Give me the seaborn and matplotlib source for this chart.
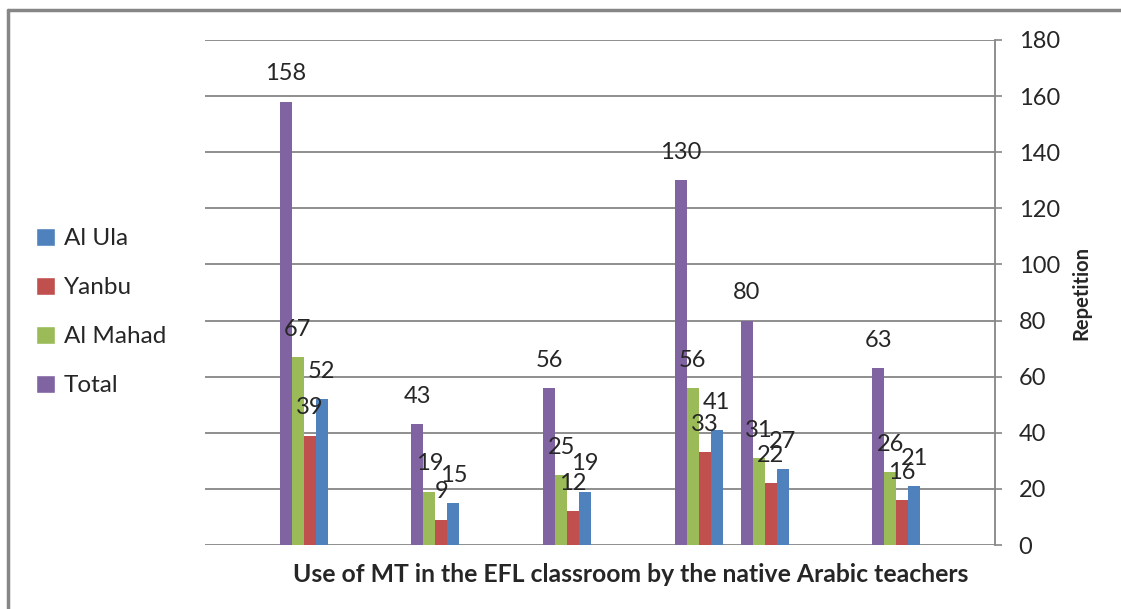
import numpy as np
import pandas as pd
import matplotlib
matplotlib.use("Agg")
import matplotlib.pyplot as plt
import seaborn as sns
from matplotlib.lines import Line2D
from matplotlib.patches import Patch

# dane
slots = ["1", "2", "3", "4", "5", "6", "7", "8", "9", "10", "11", "12"]
item_slots = ["2", "4", "6", "8", "9", "11"]
series = ["Total", "Al Mahad", "Yanbu", "Al Ula"]
total = [158, 43, 56, 130, 80, 63]
al_mahad = [67, 19, 25, 56, 31, 26]
yanbu = [39, 9, 12, 33, 22, 16]
al_ula = [52, 15, 19, 41, 27, 21]
colors = {"Total": "#8064A2", "Al Mahad": "#9BBB59", "Yanbu": "#C0504D", "Al Ula": "#4F81BD"}
y_ticks = [0, 20, 40, 60, 80, 100, 120, 140, 160, 180]
x_title = "Use of MT in the EFL classroom by the native Arabic teachers"
y_title = "Repetition"

df = pd.DataFrame({
    "slot": item_slots * 4,
    "series": np.repeat(series, len(item_slots)),
    "value": total + al_mahad + yanbu + al_ula,
})

sns.set_style("white")
plt.rcParams["font.family"] = ["Lato", "DejaVu Sans"]

W, H = 1121, 609
fig = plt.figure(figsize=(W / 100, H / 100), dpi=100)
ax = fig.add_axes([205 / W, 1 - 545 / H, 790 / W, 505 / H])

sns.barplot(data=df, x="slot", y="value", hue="series", order=slots,
            hue_order=series, palette=colors, width=0.73, saturation=1,
            linewidth=0, legend=False, ax=ax)

grid_col = "#868686"
ax.set_ylim(0, 180)
ax.set_xlim(-0.5, len(slots) - 0.5)
ax.set_yticks(y_ticks)
ax.yaxis.tick_right()
ax.yaxis.set_label_position("right")
ax.tick_params(axis="y", direction="out", length=5, width=1.2, color=grid_col,
               labelsize=17, pad=12)
ax.tick_params(axis="x", length=0, labelbottom=False)
ax.grid(axis="y", color=grid_col, linewidth=1.3)
ax.set_axisbelow(True)
for s in ["top", "left", "bottom"]:
    ax.spines[s].set_visible(False)
ax.spines["right"].set_color(grid_col)
ax.spines["right"].set_linewidth(1.3)

ax.set_ylabel(y_title, fontsize=14.5, fontweight="bold", labelpad=8)
ax.set_xlabel(x_title, fontsize=17.8, fontweight="bold")
ax.xaxis.set_label_coords(0.539, -0.035)

# etykiety słupków
for cont in ax.containers:
    for bar in cont:
        h = bar.get_height()
        if np.isnan(h):
            continue
        ax.annotate(f"{h:.0f}", (bar.get_x() + bar.get_width() / 2, h),
                    xytext=(0, 20), textcoords="offset points",
                    ha="center", va="center", fontsize=17)

handles = [Patch(facecolor=colors[s], label=s) for s in series[::-1]]
fig.legend(handles=handles, loc="center left", bbox_to_anchor=(14 / W, 1 - 312 / H),
           frameon=False, fontsize=17.5, handlelength=0.8, handleheight=0.8,
           handletextpad=0.35, labelspacing=1.12)

# ramka wykresu
fig.add_artist(Line2D([8 / W, 8 / W], [0, 1 - 10 / H], color=grid_col, linewidth=2.5))
fig.add_artist(Line2D([8 / W, 1], [1 - 10 / H, 1 - 10 / H], color=grid_col, linewidth=2.5))

fig.savefig("out.png", dpi=100)
